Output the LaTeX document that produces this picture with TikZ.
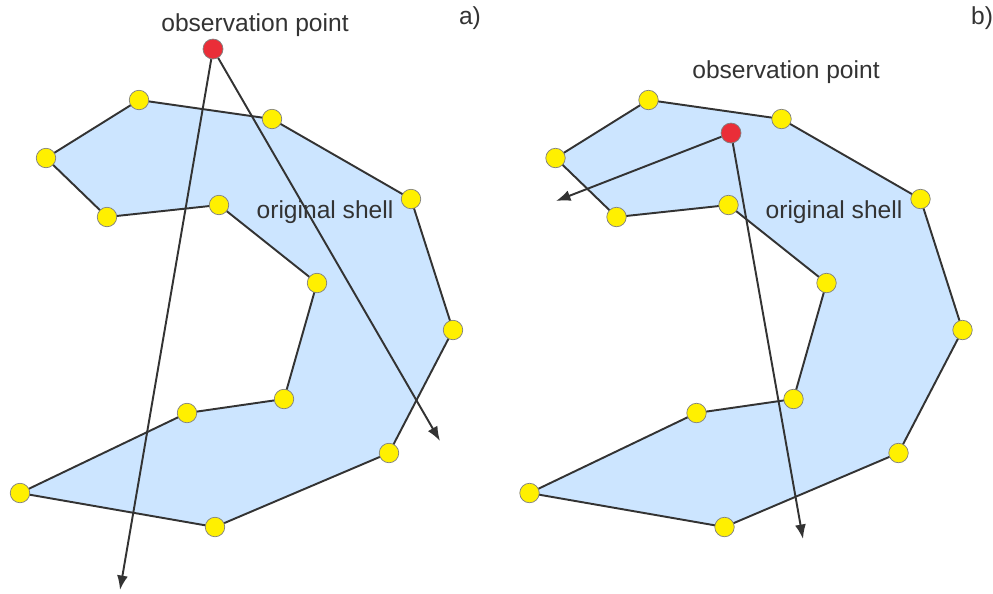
\documentclass[tikz,border=0pt]{standalone}
\usepackage{fontspec}
\setmainfont{Liberation Sans}
\usetikzlibrary{arrows.meta,backgrounds}
\definecolor{shellblue}{RGB}{204,229,255}
\definecolor{vertexyellow}{RGB}{255,240,0}
\definecolor{obsred}{RGB}{234,46,56}
\definecolor{linegray}{RGB}{51,51,51}

\begin{document}
\begin{tikzpicture}[x=0.02cm, y=-0.02cm, font=\fontsize{14}{16}\selectfont, text=linegray,
  >={Latex[length=2.9mm,width=2.2mm]},
  vertex/.style={circle, draw=gray, line width=0.4pt, fill=vertexyellow, inner sep=0pt, minimum size=3.9mm},
  obspoint/.style={vertex, fill=obsred, minimum size=4mm},
  shell/.style={fill=shellblue, draw=linegray, line width=1.1pt, line join=round},
  ray/.style={->, draw=linegray, line width=1.1pt}]
\useasboundingbox (0,0) rectangle (993,593);
% the same shell in both panels, b) is shifted to the right
\foreach \p/\dx in {a/0, b/509.5}{
  \foreach \i/\x/\y in {1/139/100, 2/272/119, 3/411/199, 4/453/330, 5/389/453, 6/215/527, 7/20/493,
                        8/187/413, 9/284/399, 10/317/283, 11/219/205, 12/107/217, 13/46/158}
    \node[vertex] (\p\i) at (\x+\dx,\y) {};
  \begin{scope}[on background layer]
    \filldraw[shell] (\p1.center) \foreach \i in {2,...,13}{ -- (\p\i.center)} -- cycle;
  \end{scope}
}
\node (shella) at (325,212) {original shell};
\node (shellb) at (834,212) {original shell};
\node (taga) at (470,18) {a)};
\node (tagb) at (982,18) {b)};

% panel a): observation point outside the shell
\node[obspoint] (obsa) at (213,49) {};
\node (obstxta) at (255,25) {observation point};
\coordinate (enda1) at (120,590);
\coordinate (enda2) at (440,441);
\draw[ray] (obsa) -- (enda1);
\draw[ray] (obsa) -- (enda2);

% panel b): observation point inside the shell
\node[obspoint] (obsb) at (731,133) {};
\node (obstxtb) at (786,72) {observation point};
\coordinate (endb1) at (556,201);
\coordinate (endb2) at (803,539);
\draw[ray] (obsb) -- (endb1);
\draw[ray] (obsb) -- (endb2);
\end{tikzpicture}
\end{document}
